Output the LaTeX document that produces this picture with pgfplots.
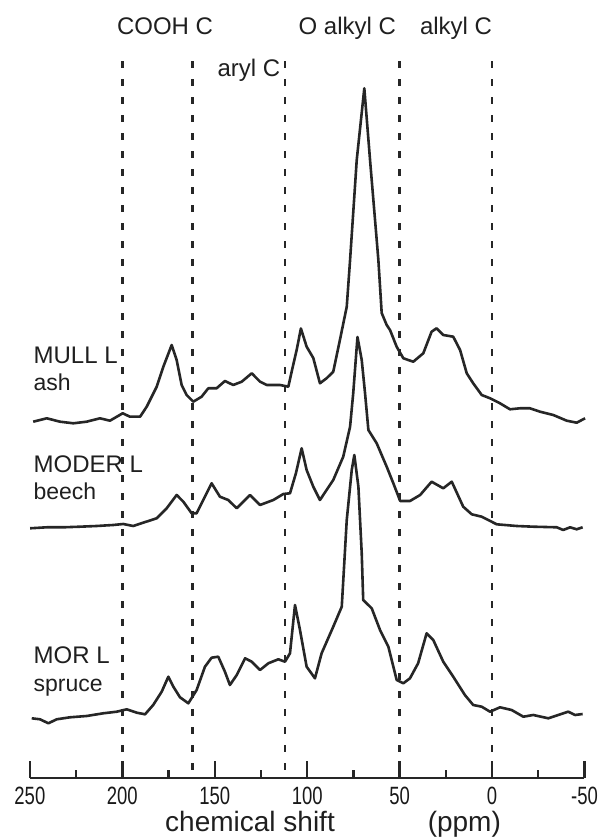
\documentclass[border=0pt]{standalone}
\usepackage{fontspec}
\setmainfont{Liberation Sans}
\newfontfamily\narrowfont[FakeStretch=0.74]{Liberation Sans}
\usepackage{pgfplots}
\usepackage{pgfplotstable}
\pgfplotsset{compat=1.18}

% chemical shift (ppm)  intensity (arbitrary units, spectra stacked)
\pgfplotstableread{
x y
248.2 417.3
240.9 420.7
233.7 417.3
226.5 415.7
219.3 417.3
212.1 420.7
206.7 418.3
199.8 425.7
195.9 422.3
190.4 422.3
186.8 432.3
181.4 452.3
177.8 472.3
173.3 494
170.6 479
167.9 454
165.2 444
161.6 437.3
157.1 442.3
153.5 450.7
149.0 450.7
144.5 458
140.0 454
135.4 457.3
130.0 465.7
125.5 457.3
121.9 454
114.7 454
110.2 452.3
108.4 467.3
105.7 489
103.4 510.5
100.3 492.3
96.7 481
93.1 455.7
89.5 460.7
85.9 467.3
82.3 499
78.6 532.3
76.8 579
73.2 679
69.1 750.7
66.0 679
61.5 579
59.7 526
57.0 514
55.2 509
51.6 492.3
48.0 480.7
42.6 477.3
37.2 485.7
32.7 507.3
30.0 510.7
26.4 504
21.0 502.3
17.3 489
13.7 465.7
10.2 455.7
5.6 444
1.1 440.7
-4.3 435.7
-9.7 429.7
-15.1 430.7
-20.5 430.7
-25.9 427.3
-33.1 424
-40.4 418.3
-45.8 416.3
-50.3 420.7
}\mull

\pgfplotstableread{
x y
249.9 310.7
240.9 311.7
231.9 311.7
222.9 312.3
213.9 313
204.9 314
199.5 315
194.1 313
188.7 316.3
181.4 320.7
176.0 330.7
170.6 344
167.0 337.3
162.5 325.7
159.8 325.7
156.2 339
151.7 355.7
147.2 342.3
142.7 339
138.1 330.7
130.9 344
125.5 334
118.3 339
112.9 345
109.3 345.7
106.1 365.7
103.0 390.7
100.3 369
96.7 352.3
93.1 339
89.5 349
85.9 359
80.5 382.3
76.8 412.3
75.1 445.7
72.8 502
70.5 479
68.7 445.7
66.9 409
62.4 395.7
57.0 372.3
53.4 355.7
49.7 338
44.4 338
38.9 344
32.7 357.3
26.4 350.7
21.8 357.3
15.6 332.3
11.0 324.7
5.6 322.3
-2.5 314.7
-13.3 313
-22.3 312.3
-35.0 311.7
-38.5 309
-42.2 311.7
-45.8 309.7
-49.0 311.7
}\moder

\pgfplotstableread{
x y
249.0 120.7
244.5 119.7
240.0 115.7
235.5 119.7
228.3 121.7
219.3 123
210.3 125.7
203.0 127.3
197.6 129.7
192.2 126.3
187.7 124.7
183.3 134
178.7 147.3
175.1 162.3
172.4 152.3
168.8 141.7
164.3 135.7
159.8 149
155.3 172.3
151.7 181.3
148.1 182.3
144.5 167.3
141.8 154
138.1 164
133.6 180.7
130.0 177.3
125.5 169
121.0 175.7
115.6 179.7
112.0 177.3
109.3 185.7
106.6 234
103.9 209
100.3 172.3
95.8 160.7
92.2 185.7
85.9 212.3
81.3 232.3
78.6 319
75.9 369
74.5 384
72.3 352.3
70.5 285.7
69.7 239
65.1 230.7
60.6 209
56.1 192.3
51.6 159
48.0 155.7
44.4 160.7
40.0 175.7
35.4 205.7
31.8 199
26.4 177.3
21.0 162.3
14.7 144
10.2 134
5.6 132.3
1.1 127.3
-4.3 131.7
-10.6 129
-16.9 122.3
-22.3 124
-30.4 120.7
-35.8 124
-41.2 127.3
-44.9 124
-49.0 125
}\mor

\begin{document}
\begin{tikzpicture}
\begin{axis}[
  scale only axis,
  width=277.3pt, height=389pt,
  x dir=reverse,
  xmin=-50, xmax=250, ymin=61, ymax=839,
  axis x line=bottom, axis y line=none,
  x axis line style={-, line width=1.2pt, black!85},
  xtick={-50,0,50,100,150,200,250},
  xticklabels={-50,0,50,100,150,200,250},
  minor xtick={-25,25,75,125,175,225},
  tick align=inside,
  major tick length=8.5pt, minor tick length=4pt,
  every tick/.style={line width=1.2pt, black!85},
  xticklabel style={font=\narrowfont\fontsize{12.5}{14}\selectfont, yshift=-1pt, text=black!90},
  clip=false,
]
% invisible frame giving the picture the reference's proportions
\path (axis cs:266.17,0) rectangle (axis cs:-58.92,839);

% region boundaries
\foreach \p in {200,162,112,50,0} {
  \edef\tmp{\noexpand\addplot[black!85, line width=1.3pt, dash pattern=on 3.5pt off 5.5pt] coordinates {(\p,69) (\p,787)};}
  \tmp
}

\addplot[black!85, line width=1.3pt, line join=round] table {\mull};
\addplot[black!85, line width=1.3pt, line join=round] table {\moder};
\addplot[black!85, line width=1.3pt, line join=round] table {\mor};

\begin{scope}[every node/.style={text=black!88, inner sep=0pt}]
\node[anchor=base] at (axis cs:176.9,804.5) {\fontsize{12}{14}\selectfont COOH C};
\node[anchor=base] at (axis cs:131.5,762.3) {\fontsize{12}{14}\selectfont aryl C};
\node[anchor=base] at (axis cs:78.3,804.5) {\fontsize{12}{14}\selectfont O alkyl C};
\node[anchor=base] at (axis cs:19.5,804.5) {\fontsize{12}{14}\selectfont alkyl C};

\node[anchor=base west] at (axis cs:248.2,475.7) {\fontsize{12}{13}\selectfont MULL L};
\node[anchor=base west] at (axis cs:248.2,448.3) {\fontsize{11.5}{13}\selectfont ash};
\node[anchor=base west] at (axis cs:248.2,366.3) {\fontsize{12}{13}\selectfont MODER L};
\node[anchor=base west] at (axis cs:248.2,339) {\fontsize{11.5}{13}\selectfont beech};
\node[anchor=base west] at (axis cs:248.2,175) {\fontsize{12}{13}\selectfont MOR L};
\node[anchor=base west] at (axis cs:248.2,147.3) {\fontsize{11.5}{13}\selectfont spruce};

\node[anchor=base west] at (axis cs:177,7) {\fontsize{14}{16}\selectfont chemical shift};
\node[anchor=base east] at (axis cs:-5,7) {\fontsize{14}{16}\selectfont (ppm)};
\end{scope}
\end{axis}
\end{tikzpicture}
\end{document}
